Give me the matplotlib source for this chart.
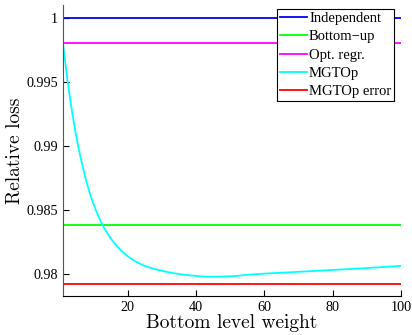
import numpy as np
import matplotlib.pyplot as plt

# horizontal reference levels
independent = 1.0
bottom_up = 0.98379
opt_regr = 0.998
mgtop_error = 0.9792

# MGTOp curve
weight = [1, 2, 3, 4, 5, 6, 7, 8, 10, 12.5, 15, 17.5, 20, 22.5, 25, 30, 36, 44, 50, 56, 70, 85, 100]
mgtop = [0.998, 0.99577, 0.99381, 0.99209, 0.99058, 0.98925, 0.98809, 0.98707, 0.98539,
         0.98385, 0.98275, 0.98195, 0.98135, 0.98092, 0.98060, 0.98022, 0.97993, 0.97976,
         0.97979, 0.97993, 0.98014, 0.98035, 0.98061]

# smooth through the read points (monotone piecewise cubic)
def pchip(x, y, xi):
    x = np.asarray(x, float); y = np.asarray(y, float)
    h = np.diff(x); d = np.diff(y) / h
    m = np.zeros_like(y)
    for k in range(1, len(x) - 1):
        if d[k-1] * d[k] > 0:
            w1 = 2*h[k] + h[k-1]; w2 = h[k] + 2*h[k-1]
            m[k] = (w1 + w2) / (w1/d[k-1] + w2/d[k])
    m[0] = d[0]; m[-1] = d[-1]
    idx = np.clip(np.searchsorted(x, xi) - 1, 0, len(x) - 2)
    t = (xi - x[idx]) / h[idx]
    h00 = 2*t**3 - 3*t**2 + 1; h10 = t**3 - 2*t**2 + t
    h01 = -2*t**3 + 3*t**2; h11 = t**3 - t**2
    return h00*y[idx] + h10*h[idx]*m[idx] + h01*y[idx+1] + h11*h[idx]*m[idx+1]

xfine = np.linspace(1, 100, 500)
yfine = pchip(weight, mgtop, xfine)

fig = plt.figure(figsize=(4.12, 3.35), dpi=100)
ax = fig.add_axes([63/412, 39/335, 338/412, 291/335])

lw = 1.3
ax.plot([1, 100], [independent]*2, color=(0, 0, 1), lw=lw, label='Independent')
ax.plot([1, 100], [bottom_up]*2, color=(0, 1, 0), lw=lw, label='Bottom\u2212up')
ax.plot([1, 100], [opt_regr]*2, color=(1, 0, 1), lw=lw, label='Opt. regr.')
ax.plot(xfine, yfine, color=(0, 1, 1), lw=lw, label='MGTOp')
ax.plot([1, 100], [mgtop_error]*2, color=(1, 0, 0), lw=lw, label='MGTOp error')

ax.set_xlim(1, 100)
ax.set_ylim(0.97825, 1.001)
ax.set_xticks([20, 40, 60, 80, 100])
ax.set_yticks([0.98, 0.985, 0.99, 0.995, 1])
ax.set_yticklabels(['0.98', '0.985', '0.99', '0.995', '1'])
ax.spines['top'].set_visible(False)
ax.spines['right'].set_visible(False)
ax.spines['left'].set_color('#555555')
ax.tick_params(direction='in', length=4, labelsize=10.2, width=0.8)
for lab in ax.get_xticklabels() + ax.get_yticklabels():
    lab.set_fontfamily('Liberation Serif')

ax.set_xlabel('Bottom level weight', fontfamily='cmr10', fontsize=14, labelpad=0)
ax.set_ylabel('Relative loss', fontfamily='cmr10', fontsize=14, labelpad=2)

leg = ax.legend(loc='upper left', bbox_to_anchor=(277/412, 1 - 9/335), bbox_transform=fig.transFigure,
                prop={'family': 'Liberation Serif', 'size': 10.5}, fancybox=False, framealpha=1,
                edgecolor='black', borderpad=0.2, labelspacing=0.35, handlelength=1.85,
                handletextpad=0.15, borderaxespad=0)
leg.get_frame().set_linewidth(0.8)

fig.savefig('out.png', dpi=100)
